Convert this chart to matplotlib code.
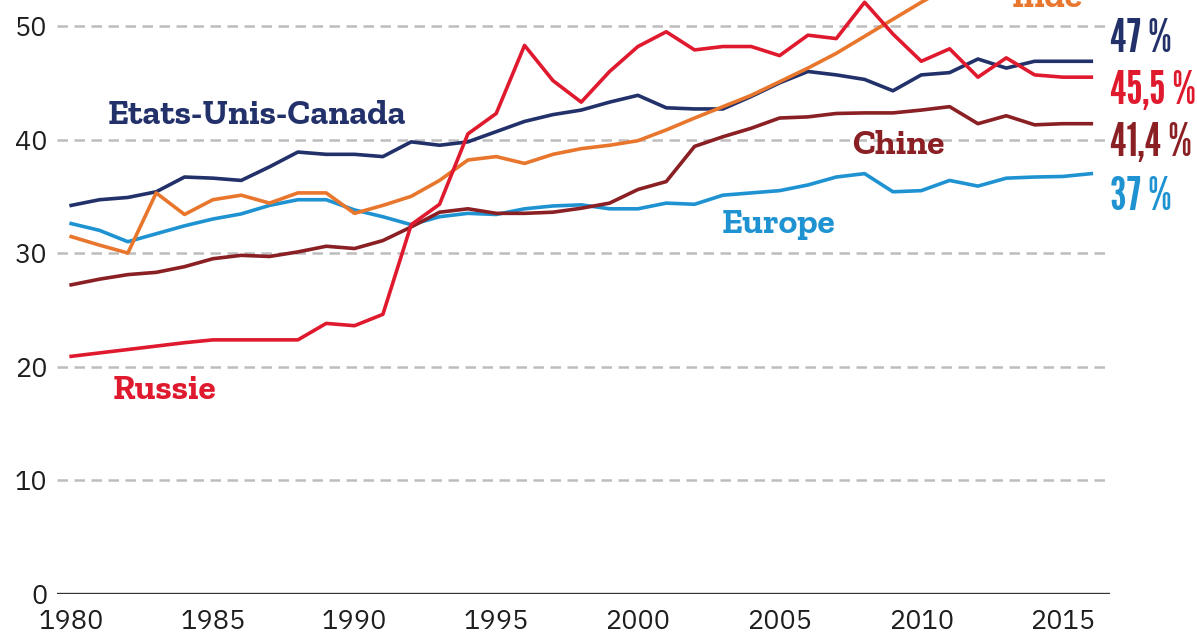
import matplotlib
matplotlib.use("Agg")
import matplotlib.pyplot as plt
from matplotlib import font_manager
from matplotlib.font_manager import FontProperties
from matplotlib.textpath import TextPath

years = list(range(1980, 2017))
usa_canada = [34.2, 34.7, 34.9, 35.4, 36.7, 36.6, 36.4, 37.6, 38.9, 38.7,
              38.7, 38.5, 39.8, 39.5, 39.8, 40.7, 41.6, 42.2, 42.6, 43.3,
              43.9, 42.8, 42.7, 42.7, 43.8, 45.0, 46.0, 45.7, 45.3, 44.3,
              45.7, 45.9, 47.1, 46.3, 46.9, 46.9, 46.9]
russie = [20.9, 21.2, 21.5, 21.8, 22.1, 22.35, 22.35, 22.35, 22.35, 23.8,
          23.6, 24.6, 32.5, 34.3, 40.5, 42.3, 48.3, 45.2, 43.3, 46.0,
          48.2, 49.5, 47.9, 48.2, 48.2, 47.4, 49.2, 48.9, 52.1, 49.3,
          46.9, 48.0, 45.5, 47.2, 45.7, 45.5, 45.5]
inde_years = list(range(1980, 2012))
inde = [31.45, 30.7, 30.0, 35.3, 33.4, 34.7, 35.1, 34.4, 35.3, 35.3,
        33.5, 34.2, 35.0, 36.4, 38.2, 38.5, 37.9, 38.7, 39.2, 39.5,
        39.9, 40.85, 41.9, 42.9, 43.9, 45.1, 46.3, 47.6, 49.1, 50.6,
        52.1, 53.5]
chine = [27.2, 27.7, 28.1, 28.3, 28.8, 29.5, 29.8, 29.7, 30.1, 30.6,
         30.4, 31.1, 32.3, 33.6, 33.9, 33.5, 33.5, 33.6, 33.95, 34.4,
         35.6, 36.3, 39.4, 40.25, 41.0, 41.9, 42.0, 42.3, 42.35, 42.35,
         42.6, 42.9, 41.4, 42.1, 41.3, 41.4, 41.4]
europe = [32.6, 32.0, 31.0, 31.7, 32.4, 33.0, 33.45, 34.2, 34.7, 34.7,
          33.8, 33.2, 32.5, 33.2, 33.5, 33.4, 33.9, 34.15, 34.25, 33.9,
          33.9, 34.4, 34.3, 35.1, 35.3, 35.5, 36.0, 36.7, 37.0, 35.4,
          35.5, 36.4, 35.9, 36.6, 36.7, 36.75, 37.0]

yticks = [0, 10, 20, 30, 40, 50]
xticks = [1980, 1985, 1990, 1995, 2000, 2005, 2010, 2015]
end_labels = ["47 %", "45,5 %", "41,4 %", "37 %"]

C_NAVY = "#22316a"
C_RED = "#e01a2e"
C_ORANGE = "#e8762c"
C_MAROON = "#8a1f24"
C_BLUE = "#1f93d2"

names = {f.name for f in font_manager.fontManager.ttflist}


def pick(cands, fallback):
    for c in cands:
        if c in names:
            return c
    return fallback


SLAB = pick(["Zilla Slab", "Noticia Text", "DejaVu Serif"], "DejaVu Serif")
COND = pick(["League Gothic", "Oswald"], "DejaVu Sans")
TICK = pick(["IBM Plex Sans", "DejaVu Sans"], "DejaVu Sans")


def ink(text, family, weight):
    fp = FontProperties(family=family, weight=weight)
    return TextPath((0, 0), text, size=100, prop=fp).get_extents()


slab_size = 296 / (ink("Etats-Unis-Canada", SLAB, "bold").width / 100) * 0.72
h45 = ink("45", COND, "normal").height / 100
cond_size = 46 / h45 * 0.72
w455 = ink("45,5 %", COND, "normal").width / 100 * cond_size / 0.72
if w455 > 84:
    cond_size *= 84 / w455
digit_h_px = h45 * cond_size / 0.72
tick_size = 62 / (ink("1980", TICK, "normal").width / 100) * 0.72

fig = plt.figure(figsize=(11.97, 6.33), dpi=100)
ax = fig.add_axes([57 / 1197, 39.5 / 633, (1110 - 57) / 1197, 593.5 / 633])
ax.set_xlim(1979.5, 2016.66)
ax.set_ylim(0, 52.3)
for s in ax.spines.values():
    s.set_visible(False)

for v in yticks[1:]:
    ax.axhline(v, color="#bdbdbd", lw=1.8, ls=(0, (4.2, 2.6)), zorder=1)
ax.axhline(0, color="#333333", lw=2.4, zorder=2)

lw = 2.6
ax.plot(years, europe, color=C_BLUE, lw=lw, zorder=3)
ax.plot(years, chine, color=C_MAROON, lw=lw, zorder=4)
ax.plot(years, usa_canada, color=C_NAVY, lw=lw, zorder=5)
ax.plot(inde_years, inde, color=C_ORANGE, lw=lw, zorder=6)
ax.plot(years, russie, color=C_RED, lw=lw, zorder=7)

ax.set_yticks(yticks)
ax.set_xticks(xticks)
ax.tick_params(axis="both", length=0, labelsize=tick_size, labelcolor="#1e1e1e")
ax.tick_params(axis="y", pad=7)
ax.tick_params(axis="x", pad=11)
for t in ax.get_xticklabels() + ax.get_yticklabels():
    t.set_fontfamily(TICK)

lab = dict(fontfamily=SLAB, fontweight="bold", fontsize=slab_size)
ax.text(1981.27, 42.15, "Etats-Unis-Canada", color=C_NAVY, ha="left", va="center", **lab)
ax.text(1981.45, 17.9, "Russie", color=C_RED, ha="left", va="center", **lab)
ax.text(2007.56, 39.5, "Chine", color=C_MAROON, ha="left", va="center", **lab)
ax.text(2002.97, 32.5, "Europe", color=C_BLUE, ha="left", va="center", **lab)
ax.text(2013.2, 51.7, "Inde", color=C_ORANGE, ha="left", va="baseline", clip_on=False, **lab)

units_per_px = 52.3 / 593.5
end_center = [49.21, 44.67, 40.13, 35.33]
end_c = [C_NAVY, C_RED, C_MAROON, C_BLUE]
for t, yc, c in zip(end_labels, end_center, end_c):
    ax.text(2016.66, yc - digit_h_px / 2 * units_per_px, t, color=c, ha="left", va="baseline",
            fontsize=cond_size, fontfamily=COND, clip_on=False)

fig.savefig("out.png", dpi=100)
